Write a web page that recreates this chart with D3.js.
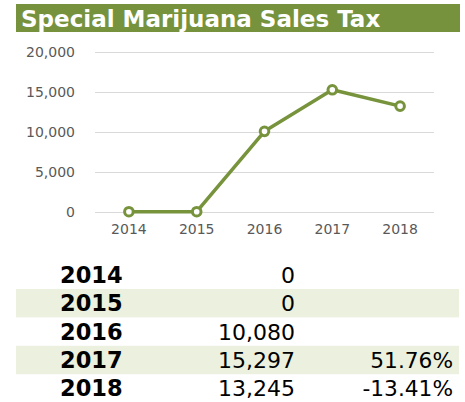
<!DOCTYPE html>
<html>
<head>
<meta charset="utf-8">
<script src="https://cdn.jsdelivr.net/npm/d3@7"></script>
<style>
  body { margin: 0; background: #fff; }
  svg { display: block; font-family: 'DejaVu Sans', Verdana, sans-serif; }
</style>
</head>
<body>
<script>
const years = ['2014', '2015', '2016', '2017', '2018'];
const sales = [0, 0, 10080, 15297, 13245];
const changeLabels = ['', '', '', '51.76%', '-13.41%'];
const yTicks = [0, 5000, 10000, 15000, 20000];

const svgSize = {width: 465, height: 402};
const green = '#77933c';

var svg = d3.select('body').append('svg')
  .attr('width', svgSize.width)
  .attr('height', svgSize.height);

// title banner
svg.append('rect')
  .attr('x', 16).attr('y', 4)
  .attr('width', 444).attr('height', 28)
  .attr('fill', '#76923c');
svg.append('text')
  .attr('x', 21).attr('y', 26.5)
  .attr('fill', '#fff')
  .style('font-weight', 'bold')
  .style('font-size', '23px')
  .text('Special Marijuana Sales Tax');

// chart
var x = d3.scaleBand().domain(years).range([95, 434]);
var y = d3.scaleLinear().domain([0, 20000]).range([211.7, 52.3]);

svg.append('g')
  .selectAll('line')
  .data(yTicks)
  .enter()
  .append('line')
  .attr('x1', 95).attr('x2', 434)
  .attr('y1', d => Math.round(y(d)) + 0.5)
  .attr('y2', d => Math.round(y(d)) + 0.5)
  .attr('stroke', '#d9d9d9')
  .attr('stroke-width', 1);

var yAxis = svg.append('g')
  .attr('transform', 'translate(86,0)')
  .call(d3.axisLeft(y).tickValues(yTicks).tickSize(0).tickPadding(0).tickFormat(d3.format(',')));
yAxis.select('.domain').remove();
yAxis.selectAll('text')
  .attr('x', -11)
  .style('font-family', "'DejaVu Sans', sans-serif")
  .style('font-size', '14px')
  .attr('fill', '#595959');

var xAxis = svg.append('g')
  .attr('transform', 'translate(0,222)')
  .call(d3.axisBottom(x).tickSize(0).tickPadding(0));
xAxis.select('.domain').remove();
xAxis.selectAll('text')
  .attr('dy', '0.85em')
  .style('font-family', "'DejaVu Sans', sans-serif")
  .style('font-size', '14px')
  .attr('fill', '#595959');

var line = d3.line()
  .x((d, i) => x(years[i]) + x.bandwidth() / 2)
  .y(d => y(d));

svg.append('path')
  .datum(sales)
  .attr('d', line)
  .attr('fill', 'none')
  .attr('stroke', green)
  .attr('stroke-width', 3.5)
  .attr('stroke-linejoin', 'round');

svg.append('g')
  .selectAll('circle')
  .data(sales)
  .enter()
  .append('circle')
  .attr('cx', (d, i) => x(years[i]) + x.bandwidth() / 2)
  .attr('cy', d => y(d))
  .attr('r', 4.3)
  .attr('fill', '#fff')
  .attr('stroke', green)
  .attr('stroke-width', 3);

// table below
var rowY = d3.scaleBand().domain(years).range([260.6, 402.6]);

var rows = svg.append('g')
  .selectAll('g')
  .data(years)
  .enter()
  .append('g')
  .attr('transform', d => `translate(0,${rowY(d)})`);

rows.append('rect')
  .attr('x', 16).attr('width', 443)
  .attr('height', rowY.bandwidth())
  .attr('fill', (d, i) => i % 2 === 1 ? '#ebf1de' : 'none');

rows.append('text')
  .attr('x', 60)
  .attr('y', rowY.bandwidth() / 2)
  .attr('dy', '0.36em')
  .style('font-weight', 'bold')
  .style('font-size', '22.5px')
  .attr('fill', '#000')
  .text(d => d);

rows.append('text')
  .attr('x', 295)
  .attr('y', rowY.bandwidth() / 2)
  .attr('dy', '0.36em')
  .attr('text-anchor', 'end')
  .style('font-size', '22px')
  .attr('fill', '#000')
  .text((d, i) => d3.format(',')(sales[i]));

rows.append('text')
  .attr('x', 453)
  .attr('y', rowY.bandwidth() / 2)
  .attr('dy', '0.36em')
  .attr('text-anchor', 'end')
  .style('font-size', '21.7px')
  .attr('fill', '#000')
  .text((d, i) => changeLabels[i]);
</script>
</body>
</html>
